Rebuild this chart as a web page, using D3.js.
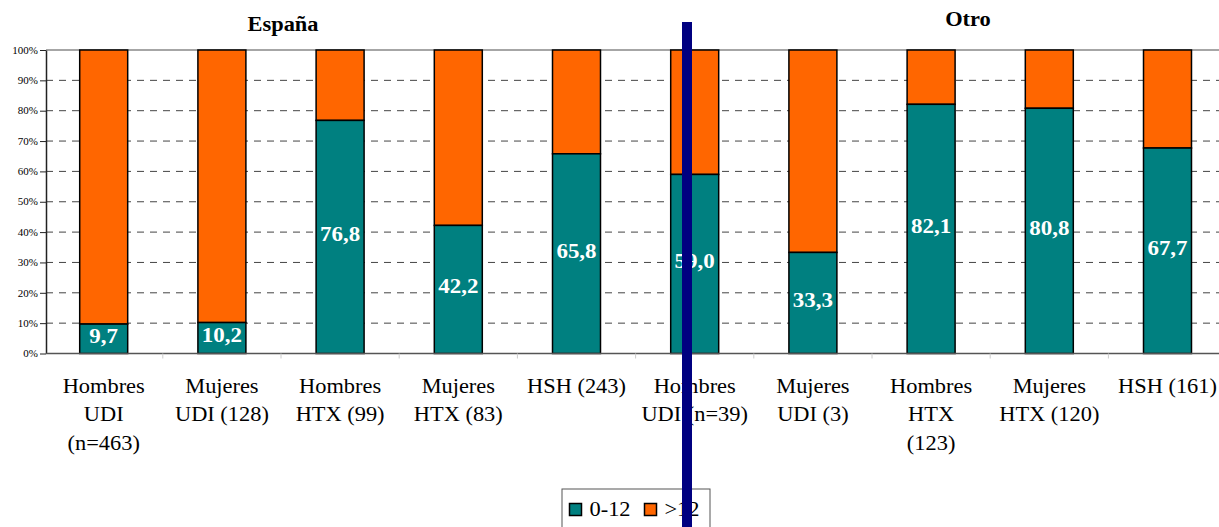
<!DOCTYPE html>
<html><head><meta charset="utf-8">
<script src="https://cdn.jsdelivr.net/npm/d3@7"></script>
<style>body{margin:0;background:#fff;}svg text{font-family:"Liberation Serif","Times New Roman","DejaVu Serif",serif !important;}</style>
</head><body>
<svg id="c" width="1219" height="527"></svg>
<script>
const categories = [
  ["Hombres","UDI","(n=463)"],
  ["Mujeres","UDI (128)"],
  ["Hombres","HTX (99)"],
  ["Mujeres","HTX (83)"],
  ["HSH (243)"],
  ["Hombres","UDI (n=39)"],
  ["Mujeres","UDI (3)"],
  ["Hombres","HTX","(123)"],
  ["Mujeres","HTX (120)"],
  ["HSH (161)"]
];
const low = [9.7, 10.2, 76.8, 42.2, 65.8, 59.0, 33.3, 82.1, 80.8, 67.7];
const yTicks = [0,10,20,30,40,50,60,70,80,90,100];
const groupTitles = ["España", "Otro"];
const legendItems = ["0-12", ">12"];
const colors = ["#008080", "#FF6600"];

const SX = 1.12; // horizontal stretch of the original rendering
const svg = d3.select("#c");
const ids = d3.range(categories.length);
const x = d3.scaleBand().domain(ids).range([44.6, 1226.6]).padding(0);
const y = d3.scaleLinear().domain([0,100]).range([353.5, 50]);
const bw = x.bandwidth() * 0.406;
const axisX = 46;

// gridlines
svg.append("g").selectAll("line").data(yTicks.filter(t => t > 0 && t < 100)).join("line")
  .attr("x1", axisX).attr("x2", 1219).attr("y1", d => y(d)).attr("y2", d => y(d))
  .attr("stroke", "#444").attr("stroke-width", 1).attr("stroke-dasharray", "7,6");
svg.append("line").attr("x1", axisX).attr("x2", 1219).attr("y1", y(100)).attr("y2", y(100))
  .attr("stroke", "#888").attr("stroke-width", 1.5);

// y axis
const yAxis = d3.axisLeft(y).tickValues(yTicks).tickFormat(d => d + "%").tickSize(6).tickSizeOuter(0);
const ga = svg.append("g").attr("transform", `translate(${axisX},0)`).call(yAxis);
ga.select(".domain").attr("stroke", "#222").attr("stroke-width", 1.5);
ga.selectAll(".tick line").attr("stroke", "#222");
ga.selectAll("text").attr("font-size", 10).attr("fill", "#000").attr("x", 0)
  .attr("transform", "translate(-8,0) scale(1.1,1)");

// bars
const g = svg.append("g");
g.selectAll("rect.hi").data(ids).join("rect").attr("class","hi")
  .attr("x", i => x(i) + x.bandwidth()/2 - bw/2).attr("width", bw)
  .attr("y", i => y(100)).attr("height", i => y(low[i]) - y(100))
  .attr("fill", colors[1]).attr("stroke", "#000").attr("stroke-width", 1.5);
g.selectAll("rect.lo").data(ids).join("rect").attr("class","lo")
  .attr("x", i => x(i) + x.bandwidth()/2 - bw/2).attr("width", bw)
  .attr("y", i => y(low[i])).attr("height", i => y(0) - y(low[i]))
  .attr("fill", colors[0]).attr("stroke", "#000").attr("stroke-width", 1.5);

// bottom axis
svg.append("line").attr("x1", axisX).attr("x2", 1219).attr("y1", y(0)).attr("y2", y(0))
  .attr("stroke", "#555").attr("stroke-width", 1.5);
svg.append("g").selectAll("line").data(ids.slice(1)).join("line")
  .attr("x1", i => x(i)).attr("x2", i => x(i)).attr("y1", y(0)).attr("y2", y(0) + 5)
  .attr("stroke", "#ccc");

// value labels
g.selectAll("text.v").data(ids).join("text").attr("class","v")
  .attr("transform", i => `translate(${x(i) + x.bandwidth()/2},${(y(0) + y(low[i]))/2 + 4}) scale(${SX},1)`)
  .attr("text-anchor", "middle").attr("fill", "#fff").attr("font-weight", "bold").attr("font-size", 20.5)
  .text(i => low[i].toFixed(1).replace(".", ","));

// category labels
const cl = svg.append("g").selectAll("text").data(ids).join("text")
  .attr("transform", i => `translate(${x(i) + x.bandwidth()/2},393) scale(${SX},1)`)
  .attr("text-anchor", "middle").attr("font-size", 20).attr("fill", "#000");
cl.selectAll("tspan").data(i => categories[i]).join("tspan")
  .attr("x", 0).attr("dy", (d, k) => k === 0 ? 0 : 28.5).text(d => d);

// group titles
const titleX = [283, 968];
const titleY = [31, 26];
svg.selectAll("text.gt").data(groupTitles).join("text").attr("class","gt")
  .attr("transform", (d, k) => `translate(${titleX[k]},${titleY[k]}) scale(${SX},1)`)
  .attr("text-anchor", "middle").attr("font-weight", "bold").attr("font-size", 20).text(d => d);

// legend
const lg = svg.append("g").attr("transform", "translate(562,489)");
lg.append("rect").attr("x", 0).attr("y", 0).attr("width", 148).attr("height", 45)
  .attr("fill", "#fff").attr("stroke", "#555").attr("stroke-width", 1);
const li = lg.selectAll("g").data(legendItems).join("g").attr("transform", (d, k) => `translate(${7.5 + k*75},14.5)`);
li.append("rect").attr("width", 12).attr("height", 12).attr("fill", (d, k) => colors[k]).attr("stroke", "#000").attr("stroke-width", 1.5);
li.append("text").attr("transform", `translate(20,12) scale(${SX},1)`).attr("font-size", 20).text(d => d);

// vertical marker line
svg.append("rect").attr("x", 682).attr("y", 22).attr("width", 10).attr("height", 505).attr("fill", "#000080");
</script>
</body></html>
